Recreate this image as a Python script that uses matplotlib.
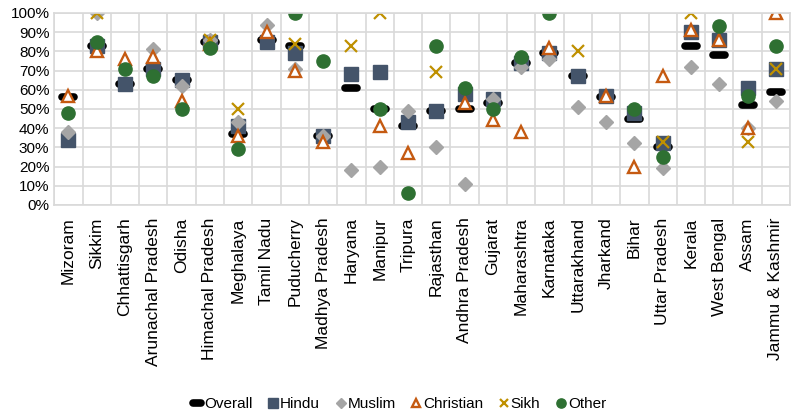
import numpy as np
import matplotlib.pyplot as plt
from matplotlib.markers import MarkerStyle

plt.rcParams['font.family'] = ['Liberation Sans', 'DejaVu Sans']

nan = np.nan
states = ['Mizoram', 'Sikkim', 'Chhattisgarh', 'Arunachal Pradesh', 'Odisha',
          'Himachal Pradesh', 'Meghalaya', 'Tamil Nadu', 'Puducherry',
          'Madhya Pradesh', 'Haryana', 'Manipur', 'Tripura', 'Rajasthan',
          'Andhra Pradesh', 'Gujarat', 'Maharashtra', 'Karnataka',
          'Uttarakhand', 'Jharkand', 'Bihar', 'Uttar Pradesh', 'Kerala',
          'West Bengal', 'Assam', 'Jammu & Kashmir']

overall = [56, 83, 63, 71, 65, 85, 37, 86, 83, 36, 61, 50, 41, 49, 50, 53,
           74, 79, 67, 56, 45, 30, 83, 78, 52, 59]
hindu = [34, 83, 63, 71, 65, 85, 41, 85, 79, 36, 68, 69, 43, 49, 58, 55,
         74, 79, 67, 57, 48, 32, 90, 86, 61, 71]
muslim = [38, 100, nan, 81, 62, 86, 43, 94, 71, 36, 18, 20, 49, 30, 11, 55,
          72, 76, 51, 43, 32, 19, 72, 63, 40, 54]
christian = [57, 80, 76, 77, 54, 84, 36, 90, 70, 33, nan, 41, 27, nan, 53, 44,
             38, 82, nan, 57, 20, 67, 91, 86, 40, 100]
sikh = [nan, 100, nan, nan, nan, 86, 50, nan, 84, nan, 83, 100, nan, 69, nan,
        nan, nan, nan, 80, nan, nan, 33, 100, nan, 33, 71]
other = [48, 85, 71, 67, 50, 82, 29, nan, 100, 75, nan, 50, 6, 83, 61, 50,
         77, 100, nan, nan, 50, 25, nan, 93, 57, 83]

x = np.arange(len(states))

fig = plt.figure(figsize=(7.98, 4.19), dpi=100)
ax = fig.add_axes([0.068, 0.511, 0.922, 0.458])

grid_c = '#D9D9D9'
ax.set_xlim(-0.5, len(states) - 0.5)
ax.set_ylim(0, 100)
ax.set_yticks(np.arange(0, 101, 10))
ax.set_yticklabels([f'{v}%' for v in range(0, 101, 10)], fontsize=11)
ax.set_xticks(x)
ax.set_xticklabels(states, rotation=90, fontsize=12.5)
ax.set_xticks(np.arange(-0.5, len(states), 1), minor=True)
ax.tick_params(axis='both', which='both', length=0)
ax.tick_params(axis='x', pad=9)
ax.grid(True, axis='y', color=grid_c, lw=1.2)
ax.grid(True, axis='x', which='minor', color=grid_c, lw=1.2)
for s in ax.spines.values():
    s.set_color(grid_c)
    s.set_linewidth(1.2)
ax.set_axisbelow(True)

bar = MarkerStyle('_', capstyle='round')
ax.plot(x, overall, ls='none', marker=bar, ms=8, mew=5.5, color='black',
        label='Overall')
ax.plot(x, hindu, ls='none', marker='s', ms=9.5, color='#44546A', label='Hindu')
ax.plot(x, muslim, ls='none', marker='D', ms=7.5, color='#A5A5A5', label='Muslim')
ax.plot(x, christian, ls='none', marker='^', ms=9, mfc='white', mew=1.7,
        mec='#C55A11', label='Christian')
ax.plot(x, sikh, ls='none', marker='x', ms=8.5, mew=1.6, color='#BF9000',
        label='Sikh')
ax.plot(x, other, ls='none', marker='o', ms=9.5, color='#2E7032', label='Other')

leg = fig.legend(loc='center', bbox_to_anchor=(0.5, 0.036), ncol=6,
                 frameon=False, fontsize=11, handlelength=0.7,
                 handletextpad=0.1, columnspacing=1.0, markerscale=0.7)

fig.savefig('out.png', dpi=100)
